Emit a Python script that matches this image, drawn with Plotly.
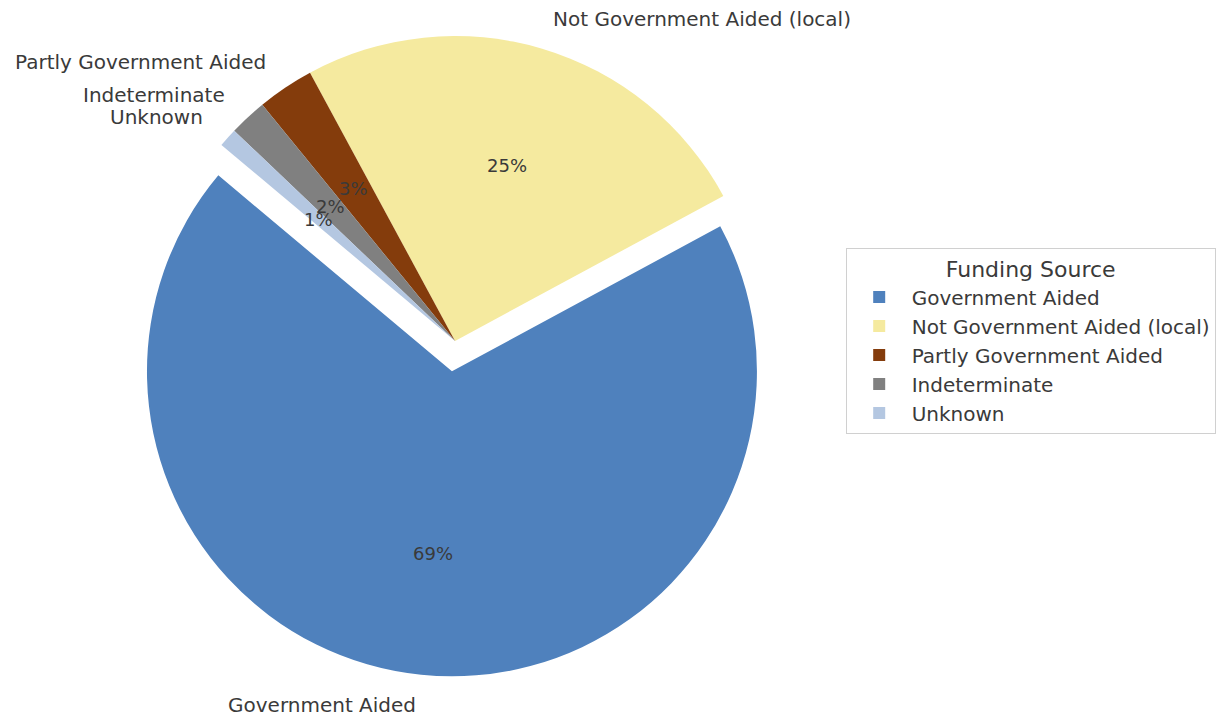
import math
import plotly.graph_objects as go

# ---- data ----
labels = ["Government Aided", "Not Government Aided (local)", "Partly Government Aided",
          "Indeterminate", "Unknown"]
values = [69, 25, 3, 2, 1]
colors = ["#4F81BD", "#F5EA9F", "#843C0C", "#808080", "#B4C7E1"]
explode = [0.1, 0, 0, 0, 0]
legend_title = "Funding Source"

# ---- layout constants ----
W, H = 1231, 716
start_angle = 140          # degrees, counter-clockwise from 3 o'clock (first slice start)
dom_x = [0.0971, 0.6422]
dom_y = [0.0552, 0.9923]
text_color = "#3a3a3a"
font_family = "DejaVu Sans"

total = sum(values)
# plotly (counterclockwise): rotation marks where the first slice ends, clockwise from 12 o'clock
rotation = 90 - start_angle - 360 * values[0] / total
while rotation < -360:
    rotation += 360

fig = go.Figure()
fig.add_trace(go.Pie(
    labels=labels, values=values, sort=False,
    direction="counterclockwise", rotation=rotation,
    pull=explode, marker=dict(colors=colors, line=dict(width=0)),
    textinfo="none", hoverinfo="label+percent",
    domain=dict(x=dom_x, y=dom_y), showlegend=True,
))

# geometry from plotly's pie sizing rule (r = min(w,h) / (2 + 2*maxPull))
maxpull = max(explode)
cx = W * (dom_x[0] + dom_x[1]) / 2
cy = H * (1 - (dom_y[0] + dom_y[1]) / 2)
r = min(W * (dom_x[1] - dom_x[0]), H * (dom_y[1] - dom_y[0])) / (2 + 2 * maxpull)

annotations = []
cum = 0
for lab, v, ex in zip(labels, values, explode):
    mid = math.radians(start_angle + 360 * (cum + v / 2) / total)
    cum += v
    c, s = math.cos(mid), math.sin(mid)
    # percentage text at 0.6 r
    px = cx + (ex + 0.6) * r * c
    py = cy - (ex + 0.6) * r * s
    annotations.append(dict(
        x=px / W, y=1 - py / H, xref="paper", yref="paper",
        text=f"{100 * v / total:.0f}%", showarrow=False,
        xanchor="center", yanchor="middle",
        font=dict(size=18, color=text_color, family=font_family)))
    # label at 1.1 r
    lx = cx + (ex + 1.1) * r * c
    ly = cy - (ex + 1.1) * r * s
    annotations.append(dict(
        x=lx / W, y=1 - ly / H, xref="paper", yref="paper",
        text=lab, showarrow=False,
        xanchor="left" if c > 0 else "right", yanchor="middle",
        font=dict(size=20, color=text_color, family=font_family)))

fig.update_layout(
    width=W, height=H,
    margin=dict(l=0, r=0, t=0, b=0),
    paper_bgcolor="white", plot_bgcolor="white",
    font=dict(family=font_family, color=text_color, size=20),
    annotations=annotations,
    legend=dict(
        title=dict(text=legend_title, side="top center",
                   font=dict(size=22, color=text_color, family=font_family)),
        x=0.687, xanchor="left", y=0.524, yanchor="middle",
        itemwidth=55,
        bordercolor="#d0d0d0", borderwidth=1, bgcolor="white",
        font=dict(size=20, color=text_color, family=font_family),
    ),
)

fig.write_html("out.html")
